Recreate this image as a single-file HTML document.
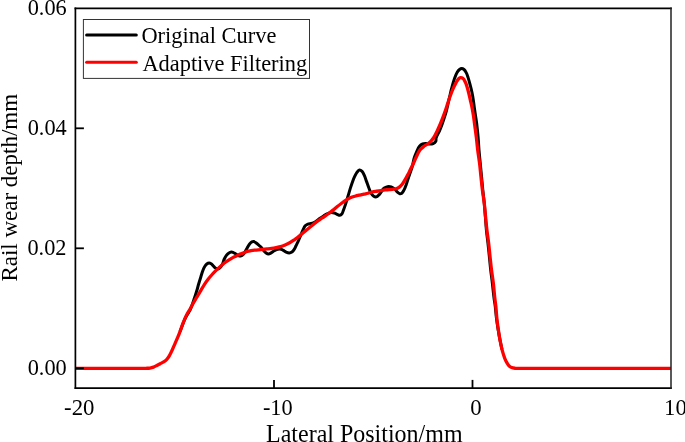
<!DOCTYPE html>
<html><head><meta charset="utf-8"><style>
html,body{margin:0;padding:0;background:#fff;}
body{width:685px;height:442px;overflow:hidden;}
svg{display:block;will-change:transform;}
text{font-family:"Liberation Serif",serif;fill:#000;}
</style></head><body>
<svg width="685" height="442" viewBox="0 0 685 442">
<defs><clipPath id="pc"><rect x="75.4" y="8.3" width="595.6" height="379.5"/></clipPath></defs>
<!-- curves -->
<g fill="none" stroke-linejoin="round" stroke-linecap="round" clip-path="url(#pc)">
<path id="orig" stroke="#000" stroke-width="3.0" d="M180.30,330.80 C181.10,328.70 181.90,326.54 182.70,324.50 C183.47,322.55 184.13,320.61 185.00,318.80 C185.84,317.05 186.87,315.45 187.80,313.80 C188.71,312.18 189.73,310.60 190.50,309.00 C191.22,307.50 191.75,306.01 192.30,304.50 C192.85,303.01 193.30,301.50 193.80,300.00 C194.30,298.50 194.79,297.08 195.30,295.50 C195.86,293.76 196.44,291.91 197.00,290.00 C197.61,287.93 198.16,285.69 198.80,283.50 C199.46,281.25 200.22,278.87 200.90,276.70 C201.52,274.72 202.04,272.74 202.70,271.00 C203.28,269.47 203.86,268.02 204.60,266.80 C205.25,265.73 205.97,264.64 206.80,264.00 C207.50,263.46 208.35,263.03 209.10,263.00 C209.78,262.97 210.47,263.31 211.10,263.70 C211.82,264.15 212.43,265.01 213.10,265.70 C213.80,266.41 214.43,267.34 215.20,267.90 C215.91,268.41 216.75,269.00 217.50,269.00 C218.22,269.00 218.92,268.55 219.60,268.00 C220.54,267.24 221.55,265.87 222.30,264.50 C223.16,262.93 223.55,260.61 224.30,259.00 C224.94,257.64 225.62,256.41 226.40,255.40 C227.07,254.53 227.76,253.75 228.60,253.20 C229.43,252.66 230.59,252.18 231.40,252.10 C232.00,252.04 232.43,252.19 233.00,252.40 C233.76,252.68 234.64,253.31 235.50,253.80 C236.43,254.33 237.47,255.13 238.40,255.50 C239.16,255.80 239.88,256.09 240.60,256.00 C241.35,255.91 242.12,255.48 242.80,254.90 C243.66,254.17 244.37,252.85 245.10,251.70 C245.88,250.46 246.54,249.00 247.30,247.70 C248.04,246.43 248.75,245.00 249.60,244.00 C250.31,243.16 251.13,242.33 251.90,241.95 C252.50,241.65 253.08,241.52 253.70,241.60 C254.41,241.69 255.19,242.20 255.90,242.67 C256.69,243.19 257.42,243.99 258.20,244.66 C259.02,245.36 259.89,245.96 260.70,246.80 C261.63,247.77 262.47,249.16 263.40,250.21 C264.27,251.19 265.17,252.29 266.10,252.92 C266.85,253.43 267.60,253.90 268.40,253.92 C269.26,253.95 270.19,253.40 271.10,252.93 C272.16,252.39 273.20,251.35 274.30,250.74 C275.34,250.16 276.46,249.64 277.50,249.34 C278.42,249.08 279.32,248.83 280.20,248.95 C281.12,249.08 281.98,249.68 282.90,250.16 C283.94,250.70 285.01,251.60 286.10,252.07 C287.11,252.51 288.21,252.99 289.20,252.97 C290.13,252.95 291.10,252.62 291.90,252.08 C292.79,251.48 293.53,250.40 294.20,249.39 C294.91,248.32 295.40,246.99 296.00,245.79 C296.60,244.59 297.15,243.60 297.80,242.19 C298.68,240.27 299.79,237.45 300.70,235.30 C301.51,233.39 302.20,231.57 303.00,229.91 C303.71,228.44 304.28,226.84 305.20,225.83 C305.97,224.99 306.92,224.42 307.90,224.04 C308.88,223.66 310.09,223.80 311.10,223.56 C312.05,223.33 312.93,223.09 313.80,222.67 C314.73,222.22 315.55,221.55 316.50,220.88 C317.62,220.09 318.87,219.06 320.10,218.20 C321.33,217.33 322.61,216.46 323.88,215.70 C325.10,214.97 326.31,214.24 327.56,213.70 C328.76,213.18 330.03,212.59 331.24,212.50 C332.38,212.42 333.56,212.73 334.63,213.08 C335.69,213.43 336.72,214.22 337.65,214.60 C338.41,214.91 339.09,215.35 339.77,215.27 C340.47,215.19 341.24,214.73 341.81,214.08 C342.59,213.18 342.93,211.48 343.52,209.95 C344.24,208.07 345.02,205.83 345.75,203.61 C346.54,201.19 347.31,198.50 348.07,195.96 C348.82,193.44 349.53,190.83 350.29,188.42 C351.00,186.16 351.70,183.97 352.46,181.91 C353.17,180.00 353.89,178.10 354.69,176.44 C355.39,174.98 356.06,173.58 356.92,172.46 C357.67,171.48 358.54,170.12 359.44,169.99 C360.27,169.87 361.32,170.67 362.08,171.42 C363.02,172.35 363.66,173.95 364.35,175.45 C365.16,177.21 365.79,179.37 366.52,181.38 C367.27,183.45 368.02,185.70 368.79,187.71 C369.50,189.57 370.05,191.55 370.96,193.04 C371.74,194.33 372.70,195.65 373.73,196.27 C374.55,196.77 375.57,197.09 376.40,196.90 C377.30,196.70 378.10,195.71 378.89,194.90 C379.80,193.96 380.61,192.61 381.47,191.50 C382.30,190.41 382.94,189.10 383.96,188.30 C384.97,187.51 386.32,186.91 387.55,186.70 C388.74,186.50 390.05,186.62 391.23,187.00 C392.49,187.41 393.77,188.32 394.82,189.20 C395.85,190.06 396.59,191.42 397.50,192.20 C398.24,192.83 398.98,193.52 399.75,193.66 C400.44,193.78 401.22,193.61 401.85,193.18 C402.71,192.59 403.39,191.18 404.06,189.91 C404.89,188.35 405.56,186.34 406.26,184.43 C407.00,182.40 407.65,180.19 408.37,178.06 C409.10,175.91 409.90,173.69 410.60,171.58 C411.27,169.58 411.95,167.78 412.50,165.72 C413.10,163.50 413.31,161.03 414.00,158.68 C414.72,156.22 415.80,153.49 416.80,151.30 C417.65,149.44 418.41,147.57 419.50,146.31 C420.40,145.27 421.50,144.44 422.60,144.00 C423.61,143.59 424.70,143.61 425.80,143.60 C426.96,143.59 428.19,144.00 429.40,144.00 C430.62,144.00 432.02,144.06 433.10,143.60 C434.15,143.15 435.31,142.26 435.80,141.30 C436.28,140.38 435.75,139.27 436.10,138.00 C436.64,136.04 438.47,133.27 439.50,130.90 C440.50,128.60 441.36,126.31 442.20,124.00 C443.03,121.71 443.77,119.42 444.50,117.10 C445.24,114.76 445.98,112.37 446.60,110.00 C447.21,107.67 447.67,105.33 448.20,103.00 C448.73,100.67 449.24,98.37 449.80,96.00 C450.38,93.54 450.89,91.17 451.60,88.50 C452.42,85.40 453.45,81.42 454.50,78.50 C455.35,76.13 456.20,73.81 457.20,72.20 C457.92,71.04 458.66,70.11 459.50,69.50 C460.19,69.00 460.96,68.61 461.70,68.60 C462.46,68.59 463.31,68.96 464.00,69.50 C464.85,70.17 465.56,71.40 466.20,72.60 C466.96,74.03 467.51,75.82 468.10,77.60 C468.76,79.59 469.30,81.71 469.90,84.00 C470.59,86.63 471.42,89.76 472.00,92.50 C472.54,95.04 472.92,97.42 473.30,99.90 C473.68,102.39 473.95,104.89 474.30,107.40 C474.65,109.93 475.01,112.39 475.40,115.00 C475.81,117.78 476.29,120.41 476.70,123.60 C477.21,127.59 477.71,132.65 478.10,137.10 C478.48,141.45 478.64,145.65 479.00,150.00 C479.37,154.48 479.87,159.08 480.30,163.60 C480.73,168.11 481.18,172.65 481.60,177.10 C482.01,181.45 482.36,185.65 482.80,190.00 C483.25,194.48 483.87,199.07 484.30,203.60 C484.73,208.11 485.05,212.65 485.40,217.10 C485.75,221.45 485.98,225.65 486.40,230.00 C486.84,234.48 487.50,239.07 488.00,243.60 C488.50,248.11 488.95,252.65 489.40,257.10 C489.84,261.45 490.21,265.65 490.70,270.00 C491.21,274.48 491.87,279.07 492.40,283.60 C492.93,288.11 493.38,293.07 493.90,297.10 C494.32,300.38 494.80,302.77 495.20,306.00 C495.68,309.83 495.98,314.51 496.50,318.60 C496.99,322.50 497.60,326.33 498.20,330.00 C498.77,333.45 499.38,336.80 500.00,340.00 C500.58,342.98 501.20,345.73 501.80,348.60"/>
<path id="filt" stroke="#f00" stroke-width="3.3" d="M75.40,368.30 C90.27,368.30 107.13,368.30 120.00,368.30 C129.83,368.30 141.12,368.45 146.00,368.30 C147.92,368.24 148.72,368.26 150.00,368.05 C151.22,367.85 152.37,367.52 153.50,367.10 C154.64,366.67 155.70,366.06 156.80,365.50 C157.93,364.93 159.07,364.30 160.20,363.70 C161.33,363.10 162.53,362.59 163.60,361.90 C164.66,361.22 165.69,360.54 166.60,359.60 C167.61,358.57 168.45,357.31 169.30,355.90 C170.30,354.24 171.18,352.18 172.10,350.20 C173.08,348.09 174.04,345.78 175.00,343.60 C175.94,341.45 176.91,339.34 177.80,337.20 C178.68,335.08 179.51,332.92 180.30,330.80 C181.07,328.72 181.74,326.62 182.50,324.60 C183.24,322.65 184.01,320.72 184.80,318.90 C185.54,317.19 186.24,315.60 187.10,314.00 C187.97,312.37 189.09,310.80 190.00,309.20 C190.89,307.64 191.59,306.13 192.50,304.50 C193.51,302.68 194.77,300.50 195.80,298.80 C196.65,297.40 197.39,296.34 198.20,295.00 C199.09,293.53 199.93,291.96 200.90,290.30 C202.01,288.42 203.26,286.20 204.50,284.30 C205.67,282.51 206.86,280.79 208.10,279.20 C209.27,277.70 210.48,276.35 211.70,275.00 C212.88,273.69 214.08,272.44 215.30,271.20 C216.51,269.97 217.76,268.74 219.00,267.60 C220.19,266.51 221.39,265.49 222.60,264.50 C223.79,263.53 224.98,262.56 226.20,261.70 C227.38,260.87 228.61,260.13 229.80,259.40 C230.94,258.70 232.06,257.99 233.20,257.40 C234.29,256.83 235.38,256.43 236.50,255.90 C237.68,255.34 238.88,254.60 240.10,254.10 C241.28,253.61 242.51,253.34 243.70,252.90 C244.91,252.45 246.07,251.79 247.30,251.42 C248.51,251.06 249.77,250.91 251.00,250.70 C252.21,250.50 253.40,250.33 254.60,250.18 C255.80,250.03 256.95,249.91 258.20,249.79 C259.57,249.65 261.05,249.54 262.50,249.40 C263.98,249.25 265.49,249.09 267.00,248.92 C268.53,248.74 270.08,248.57 271.60,248.35 C273.11,248.13 274.60,247.87 276.10,247.58 C277.60,247.29 279.12,247.05 280.60,246.62 C282.12,246.18 283.60,245.58 285.10,244.95 C286.64,244.30 288.22,243.61 289.70,242.79 C291.19,241.97 292.62,240.97 294.00,240.02 C295.32,239.11 296.52,238.24 297.80,237.23 C299.18,236.14 300.57,234.90 302.00,233.70 C303.50,232.45 305.07,231.16 306.60,229.90 C308.11,228.66 309.60,227.42 311.10,226.20 C312.60,224.99 314.08,223.74 315.60,222.60 C317.08,221.48 318.59,220.45 320.10,219.40 C321.62,218.35 323.20,217.35 324.70,216.30 C326.17,215.28 327.60,214.25 329.00,213.20 C330.37,212.18 331.67,211.16 333.00,210.10 C334.34,209.03 335.61,207.91 337.00,206.80 C338.47,205.62 340.07,204.36 341.60,203.22 C343.07,202.13 344.51,201.02 346.00,200.10 C347.41,199.23 348.81,198.44 350.30,197.80 C351.81,197.15 353.44,196.68 355.00,196.22 C356.51,195.77 358.00,195.42 359.50,195.06 C361.00,194.71 362.54,194.40 364.00,194.09 C365.37,193.79 366.66,193.56 368.00,193.23 C369.36,192.89 370.69,192.41 372.10,192.08 C373.58,191.74 375.17,191.51 376.70,191.25 C378.21,190.99 379.76,190.73 381.20,190.51 C382.52,190.31 383.72,190.12 385.00,189.98 C386.31,189.83 387.71,189.76 389.00,189.65 C390.21,189.54 391.33,189.47 392.50,189.32 C393.69,189.17 394.93,189.12 396.10,188.73 C397.34,188.31 398.64,187.63 399.70,186.82 C400.74,186.03 401.55,185.05 402.40,183.96 C403.36,182.72 404.22,181.20 405.10,179.70 C406.05,178.09 406.99,176.33 407.90,174.58 C408.83,172.79 409.74,170.81 410.60,169.10 C411.36,167.58 412.09,166.30 412.80,164.80 C413.56,163.21 414.22,161.52 415.00,159.80 C415.84,157.93 416.76,155.80 417.70,154.00 C418.56,152.36 419.31,150.71 420.40,149.40 C421.43,148.17 422.77,147.22 424.00,146.30 C425.17,145.43 426.43,144.88 427.60,144.00 C428.84,143.06 430.14,141.92 431.20,140.80 C432.19,139.75 432.94,138.84 433.80,137.50 C434.94,135.72 436.12,133.14 437.20,130.90 C438.29,128.64 439.33,126.31 440.30,124.00 C441.26,121.71 442.14,119.38 443.00,117.10 C443.84,114.88 444.63,112.71 445.40,110.50 C446.17,108.28 446.83,106.14 447.60,103.80 C448.45,101.23 449.37,98.28 450.30,95.70 C451.17,93.30 452.01,91.02 453.00,88.80 C453.95,86.66 455.10,84.37 456.10,82.60 C456.89,81.21 457.55,79.86 458.40,79.00 C459.05,78.34 459.74,77.70 460.50,77.60 C461.30,77.50 462.36,77.90 463.10,78.50 C464.02,79.24 464.68,80.85 465.30,82.10 C465.91,83.35 466.31,84.52 466.80,86.00 C467.42,87.88 468.03,90.26 468.60,92.50 C469.20,94.88 469.74,97.42 470.30,99.90 C470.87,102.39 471.48,104.81 472.00,107.40 C472.55,110.16 473.07,113.22 473.50,116.00 C473.90,118.61 474.12,120.71 474.50,123.60 C475.01,127.46 475.76,132.65 476.30,137.10 C476.83,141.45 477.16,145.65 477.70,150.00 C478.26,154.48 479.05,159.07 479.60,163.60 C480.15,168.10 480.53,172.65 481.00,177.10 C481.46,181.45 481.86,185.65 482.40,190.00 C482.96,194.48 483.77,199.07 484.30,203.60 C484.83,208.10 485.16,212.65 485.60,217.10 C486.03,221.45 486.39,225.65 486.90,230.00 C487.42,234.48 488.17,239.07 488.70,243.60 C489.23,248.10 489.63,252.65 490.10,257.10 C490.56,261.45 490.96,265.65 491.50,270.00 C492.06,274.48 492.87,279.07 493.40,283.60 C493.93,288.10 494.26,293.07 494.70,297.10 C495.06,300.38 495.46,302.77 495.80,306.00 C496.20,309.83 496.45,314.51 496.90,318.60 C497.33,322.50 497.86,326.33 498.40,330.00 C498.90,333.45 499.41,336.80 500.00,340.00 C500.55,342.98 501.15,345.97 501.80,348.60 C502.36,350.87 502.93,352.85 503.60,354.90 C504.26,356.91 504.92,359.01 505.80,360.80 C506.61,362.45 507.52,364.12 508.60,365.30 C509.52,366.30 510.57,367.10 511.70,367.60 C512.80,368.09 513.55,368.13 515.30,368.30 C519.84,368.74 528.52,368.30 540.00,368.30 C566.44,368.30 627.33,368.30 671.00,368.30"/>
</g>
<!-- axes box -->
<g stroke-linecap="square">
<line x1="75.4" y1="8.3" x2="671" y2="8.3" stroke="#000" stroke-width="1.7"/>
<line x1="75.4" y1="388.1" x2="671" y2="388.1" stroke="#000" stroke-width="1.7"/>
<line x1="75.4" y1="8.3" x2="75.4" y2="388.1" stroke="#000" stroke-width="1.7"/>
<line x1="671" y1="8.3" x2="671" y2="388.1" stroke="#222" stroke-width="1.5"/>
</g>
<!-- ticks -->
<g stroke="#000" stroke-width="1.8">
<line x1="75.4" y1="368.3" x2="83.9" y2="368.3"/>
<line x1="75.4" y1="248.3" x2="83.9" y2="248.3"/>
<line x1="75.4" y1="128.3" x2="83.9" y2="128.3"/>
<line x1="274.0" y1="388.1" x2="274.0" y2="379.9"/>
<line x1="472.5" y1="388.1" x2="472.5" y2="379.9"/>
</g>
<!-- y tick labels -->
<g font-size="23.5" text-anchor="end">
<text transform="translate(66.7,375.0) scale(0.95,1)">0.00</text>
<text transform="translate(66.5,255.0) scale(0.95,1)">0.02</text>
<text transform="translate(66.7,135.0) scale(0.95,1)">0.04</text>
<text transform="translate(66.7,15.0) scale(0.95,1)">0.06</text>
</g>
<!-- x tick labels -->
<g font-size="23.5" text-anchor="middle">
<text transform="translate(79.3,414.8) scale(0.97,1.0)">-20</text>
<text transform="translate(277.8,414.8) scale(0.95,1.0)">-10</text>
<text transform="translate(475.9,414.8) scale(0.97,1.0)">0</text>
<text transform="translate(675.5,414.8) scale(0.97,1.0)">10</text>
</g>
<!-- axis titles -->
<text transform="translate(364.3,442) scale(1,1.05)" font-size="24" text-anchor="middle">Lateral Position/mm</text>
<text transform="translate(16.7,187.8) rotate(-90) scale(1.0,1.03)" font-size="23" text-anchor="middle">Rail wear depth/mm</text>
<!-- legend -->
<rect x="83.4" y="19.5" width="226.1" height="58.9" fill="#fff" stroke="#333" stroke-width="1"/>
<line x1="86.6" y1="34.9" x2="136.3" y2="34.9" stroke="#000" stroke-width="3.0" stroke-linecap="round"/>
<line x1="86.6" y1="62.3" x2="136.3" y2="62.3" stroke="#f00" stroke-width="3.0" stroke-linecap="round"/>
<text x="141.4" y="42.8" font-size="22.4">Original Curve</text>
<text x="142.4" y="70.7" font-size="22.4">Adaptive Filtering</text>
</svg>
</body></html>
